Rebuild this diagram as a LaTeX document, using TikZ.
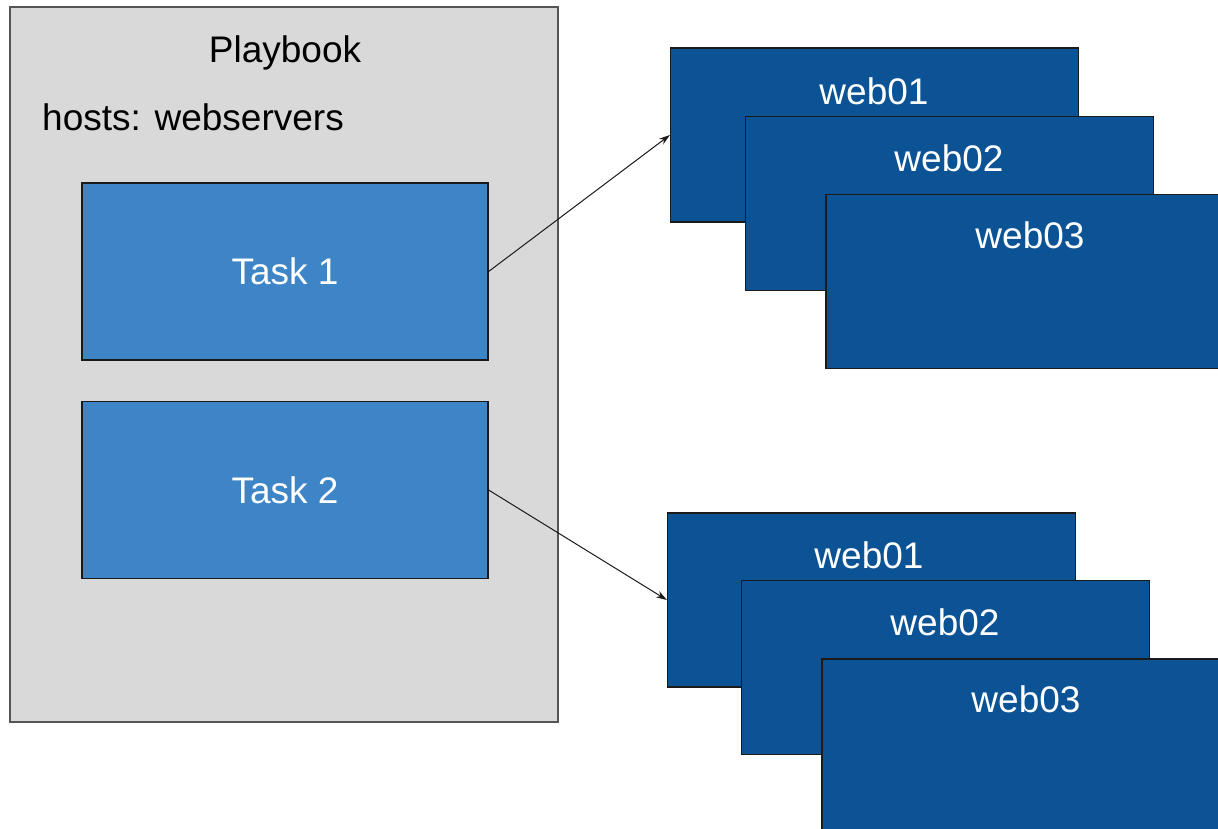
\documentclass[tikz,border=0pt]{standalone}
\usepackage{fontspec}
\setmainfont{Liberation Sans}
\usetikzlibrary{arrows.meta}
\definecolor{pbgray}{HTML}{D9D9D9}
\definecolor{pbborder}{HTML}{555555}
\definecolor{taskblue}{HTML}{3D85C6}
\definecolor{webblue}{HTML}{0B5394}
\definecolor{edgedark}{HTML}{1A1A1A}
\begin{document}
\begin{tikzpicture}[x=1pt,y=-1pt,
  bigfont/.style={font=\fontsize{37}{44}\selectfont},
  playbox/.style={draw=pbborder, line width=1.3pt, fill=pbgray, inner sep=0pt,
    minimum width=548pt, minimum height=715pt},
  taskbox/.style={draw=edgedark, line width=1.2pt, fill=taskblue, text=white, bigfont,
    inner sep=0pt, minimum width=406pt, minimum height=177pt},
  webbox/.style={draw=edgedark, line width=1.2pt, fill=webblue, inner sep=0pt,
    minimum width=408pt, minimum height=174pt},
  weblabel/.style={text=white, bigfont, inner sep=0pt, anchor=base},
  plaintext/.style={text=black, bigfont, inner sep=0pt},
  conn/.style={-{Stealth[length=11pt,width=7pt]}, line width=1pt, draw=edgedark}]
\useasboundingbox (0,0) rectangle (1218,828);
\clip (0,0) rectangle (1218,828);
% playbook
\node[playbox] (pb) at (284,364.5) {};
\node[plaintext, anchor=base] (pbtitle) at (285,62) {Playbook};
\node[plaintext, anchor=base west] (hosts) at (42,130) {hosts: webservers};
\node[taskbox] (t1) at (285,271.5) {Task 1};
\node[taskbox] (t2) at (285,490) {Task 2};
% top group
\node[webbox] (a1) at (874.5,135) {};
\node[weblabel] (la1) at (874,104) {web01};
\node[webbox] (a2) at (949.5,203.5) {};
\node[weblabel] (la2) at (949,171) {web02};
\node[webbox] (a3) at (1030,281.5) {};
\node[weblabel] (la3) at (1030,248) {web03};
% bottom group
\node[webbox] (b1) at (871.5,600) {};
\node[weblabel] (lb1) at (869,568) {web01};
\node[webbox] (b2) at (945.5,667.5) {};
\node[weblabel] (lb2) at (945,635) {web02};
\node[webbox] (b3) at (1026,746) {};
\node[weblabel] (lb3) at (1026,712) {web03};
% connectors
\draw[conn] (t1.east) -- (a1.west);
\draw[conn] (t2.east) -- (b1.west);
\end{tikzpicture}
\end{document}
